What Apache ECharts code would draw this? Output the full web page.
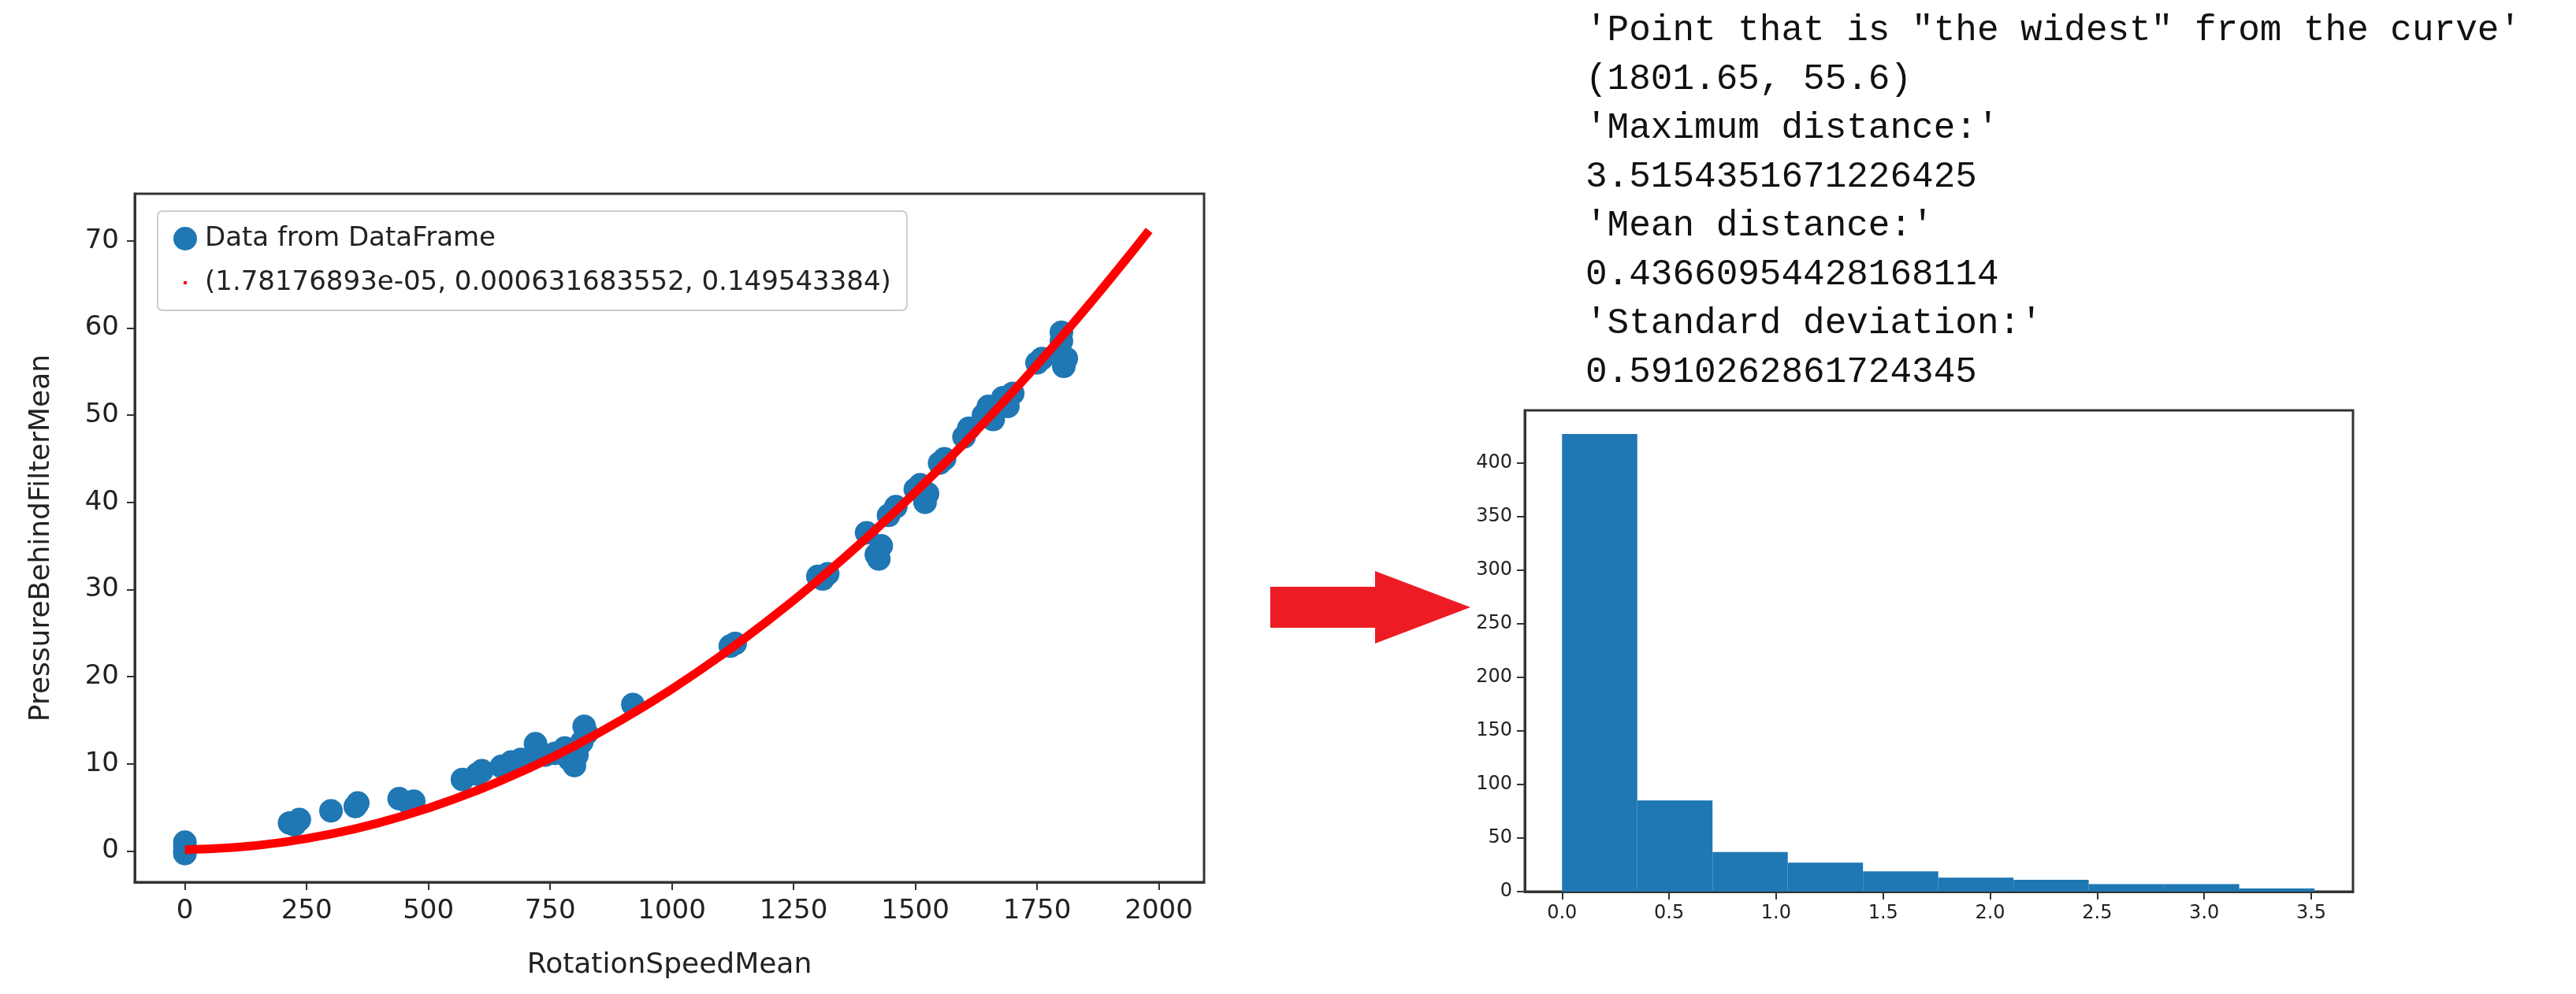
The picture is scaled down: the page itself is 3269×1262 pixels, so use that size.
<!DOCTYPE html>
<html><head><meta charset="utf-8">
<script src="https://cdn.jsdelivr.net/npm/echarts@6/dist/echarts.min.js"></script>
<style>html,body{margin:0;background:#fff}#c{width:3269px;height:1262px}</style>
</head><body><div id="c"></div>
<script>
const scatterX = [0,0,0,0,215,235,225,300,350,355,440,470,460,570,600,610,650,670,690,700,720,725,740,760,780,790,800,805,815,820,825,920,1120,1130,1300,1320,1310,1400,1420,1425,1430,1445,1460,1500,1510,1520,1525,1550,1560,1600,1610,1640,1650,1660,1680,1700,1690,1750,1760,1800,1805,1800,1800,1810];
const scatterY = [0,0.5,1,-0.3,3.2,3.6,3.0,4.6,5.1,5.5,6.0,5.7,5.5,8.2,8.8,9.2,9.7,10.2,10.5,10.3,12.3,11.5,11,11.2,11.8,10.5,9.8,11,12.5,14.3,13.5,16.8,23.5,23.8,31.5,31.8,31.2,36.5,34,33.5,35,38.5,39.5,41.5,42,40,41,44.5,45,47.5,48.5,50,51,49.5,52,52.5,51,56,56.5,59.5,55.6,57,58.5,56.5];
const fitX = [0,100,200,300,400,500,600,700,800,900,1000,1100,1200,1300,1400,1500,1600,1700,1800,1900,1980];
const fitY = [0.15,0.39,0.99,1.94,3.25,4.92,6.94,9.31,12.05,15.14,18.58,22.38,26.54,31.05,35.92,41.15,46.73,52.66,58.96,65.61,71.18];
const binEdges = [0,0.3515,0.703,1.0545,1.406,1.7575,2.109,2.4605,2.812,3.1635,3.515];
const binCounts = [427,85,37,27,19,13,11,7,7,3];
const textLines = ["'Point that is \"the widest\" from the curve'","(1801.65, 55.6)","'Maximum distance:'","3.5154351671226425","'Mean distance:'","0.43660954428168114","'Standard deviation:'","0.5910262861724345"];
const xTicks1=[0,250,500,750,1000,1250,1500,1750,2000];
const yTicks1=[0,10,20,30,40,50,60,70];
const xTicks2=[0,0.5,1,1.5,2,2.5,3,3.5];
const yTicks2=[0,50,100,150,200,250,300,350,400];

const ch = echarts.init(document.getElementById('c'));
const lab = {fontSize:34,color:'#222',fontFamily:'DejaVu Sans',margin:20,formatter:v=>String(v)};
function ax(min,max,ticks,extra){return Object.assign({type:'value',min,max,
  axisLine:{show:true,onZero:false,lineStyle:{color:'#333',width:3}},
  axisTick:{show:true,customValues:ticks,length:10,lineStyle:{color:'#333',width:2}},
  axisLabel:Object.assign({customValues:ticks},lab),splitLine:{show:false}},extra||{});}
ch.setOption({
  animation:false,
  grid:[{left:171,top:246,width:1357,height:874,show:true,borderColor:'#333',borderWidth:3},
        {left:1935,top:521,width:1051,height:611,show:true,borderColor:'#333',borderWidth:3}],
  xAxis:[ax(-103,2093,xTicks1,{gridIndex:0,name:'RotationSpeedMean',nameLocation:'middle',nameGap:88,nameTextStyle:{fontSize:36,color:'#222',fontFamily:'DejaVu Sans'}}),
         ax(-0.174,3.695,xTicks2,{gridIndex:1,axisLabel:Object.assign({customValues:xTicks2},lab,{fontSize:24,margin:16,formatter:v=>v.toFixed(1)})})],
  yAxis:[ax(-3.58,75.4,yTicks1,{gridIndex:0,name:'PressureBehindFilterMean',nameLocation:'middle',nameGap:100,nameTextStyle:{fontSize:36,color:'#222',fontFamily:'DejaVu Sans'}}),
         ax(0,449,yTicks2,{gridIndex:1,axisLabel:Object.assign({customValues:yTicks2},lab,{fontSize:24,margin:16})})],
  legend:{left:200,top:268,orient:'vertical',itemGap:22,padding:[18,20,18,20],borderColor:'#ccc',borderWidth:2,borderRadius:6,backgroundColor:'rgba(255,255,255,0.8)',
    textStyle:{fontSize:34,color:'#222',fontFamily:'DejaVu Sans'},itemWidth:40,itemHeight:30,
    data:[{name:'Data from DataFrame',icon:'circle',itemStyle:{color:'#1f77b4'}},{name:'(1.78176893e-05, 0.000631683552, 0.149543384)',icon:'path://M-4,-4 L4,-4 L4,4 L-4,4 Z M-30,-30 L-30,-30 M30,30 L30,30',itemStyle:{color:'red',borderWidth:0}}]},
  graphic:[
    {type:'group',children:textLines.map((t,i)=>({type:'text',left:2012,top:16+i*62,style:{text:t,font:'46px "Liberation Mono", monospace',fill:'#111'}}))},
    {type:'polygon',shape:{points:[[1612,745],[1745,745],[1745,725],[1866,771],[1745,817],[1745,797],[1612,797]]},style:{fill:'#ed1c24'}}
  ],
  series:[
    {name:'Data from DataFrame',type:'scatter',xAxisIndex:0,yAxisIndex:0,symbolSize:30,itemStyle:{color:'#1f77b4',opacity:1},data:scatterX.map((x,i)=>[x,scatterY[i]])},
    {name:'(1.78176893e-05, 0.000631683552, 0.149543384)',type:'line',smooth:true,xAxisIndex:0,yAxisIndex:0,showSymbol:false,symbol:'circle',lineStyle:{color:'red',width:11},itemStyle:{color:'red'},data:fitX.map((x,i)=>[x,fitY[i]])},
    {type:'custom',xAxisIndex:1,yAxisIndex:1,data:binCounts.map((c,i)=>[binEdges[i],binEdges[i+1],c]),
     renderItem:(p,api)=>{const a=api.coord([api.value(0),api.value(2)]),b=api.coord([api.value(1),0]);
       return {type:'rect',shape:{x:a[0],y:a[1],width:b[0]-a[0],height:b[1]-a[1]},style:{fill:'#1f77b4'}};}}
  ]
});
</script></body></html>
